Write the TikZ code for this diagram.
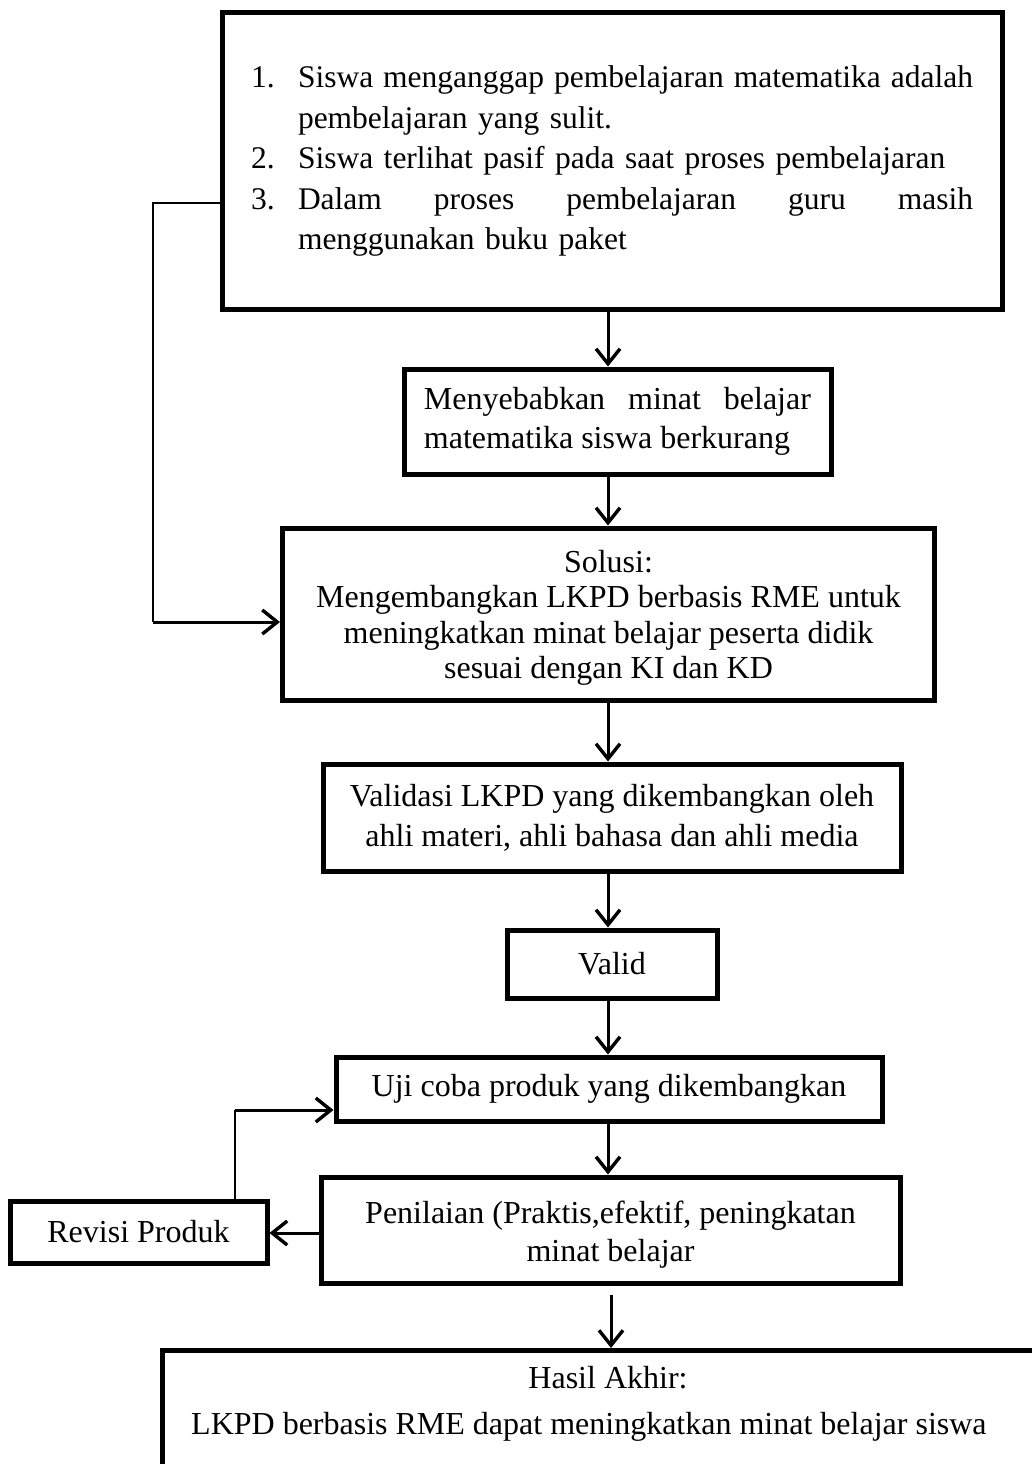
\documentclass[tikz,border=0pt]{standalone}
\usepackage{fontspec}
\setmainfont{Liberation Serif}
\usetikzlibrary{arrows.meta}
\begin{document}
\begin{tikzpicture}[x=1pt,y=-1pt,
  font=\fontsize{32}{39}\selectfont,
  box/.style={draw, line width=5pt, inner sep=0pt, rectangle, align=center},
  flow/.style={line width=3pt, -{Straight Barb[length=15pt,width=24pt,line width=3.4pt]}},
  thinline/.style={line width=1.3pt},
]
\useasboundingbox (0,0) rectangle (1032,1464);
\clip (0,0) rectangle (1032,1464);

\coordinate (ax) at (608,0);

% top box
\node[box, minimum width=780pt, minimum height=296pt, align=left, text width=722pt,
  font=\fontsize{31.5}{40.5}\selectfont] (prob) at (612,161) {%
\makebox[47pt][l]{1.}\makebox[675pt][l]{Siswa\hfill menganggap\hfill pembelajaran\hfill matematika\hfill adalah}\\
\hspace*{47pt}pembelajaran yang sulit.\\
\makebox[47pt][l]{2.}Siswa terlihat pasif pada saat proses pembelajaran\\
\makebox[47pt][l]{3.}\makebox[675pt][l]{Dalam\hfill proses\hfill pembelajaran\hfill guru\hfill masih}\\
\hspace*{47pt}menggunakan buku paket};

\node[box, minimum width=427pt, minimum height=105pt, align=left] (sebab) at (617.5,421.5) {%
\makebox[387pt][l]{Menyebabkan\hfill minat\hfill belajar}\\
matematika siswa berkurang\hspace*{21pt}};

\node[box, minimum width=652pt, minimum height=172pt] (solusi) at (608.5,614) {};
\node[align=center, font=\fontsize{32}{35.5}\selectfont, yshift=-4pt] (solusiT) at (solusi.center) {%
Solusi:\\Mengembangkan LKPD berbasis RME untuk\\meningkatkan minat belajar peserta didik\\sesuai dengan KI dan KD};

\node[box, minimum width=578pt, minimum height=107pt, font=\fontsize{32}{40}\selectfont] (validasi) at (612,817.5) {%
Validasi LKPD yang dikembangkan oleh\\ahli materi, ahli bahasa dan ahli media};

\node[box, minimum width=210pt, minimum height=68pt] (valid) at (612,964) {Valid};

\node[box, minimum width=546pt, minimum height=64pt] (uji) at (609,1089) {Uji coba produk yang dikembangkan};

\node[box, minimum width=579pt, minimum height=106pt] (nilai) at (610.5,1230) {};
\node[align=center, font=\fontsize{32}{38}\selectfont, yshift=-5pt] (nilaiT) at (nilai.center) {%
Penilaian (Praktis,efektif, peningkatan\\minat belajar};

\node[box, minimum width=257pt, minimum height=62pt] (revisi) at (138.5,1232) {Revisi Produk};

\node[box, minimum width=940pt, minimum height=200pt, anchor=north west] (hasil) at (160,1348) {};
\node (hasilA) at (608,1378) {Hasil Akhir:};
\node[anchor=west, inner sep=0pt] (hasilB) at (191,1427) {LKPD berbasis RME dapat meningkatkan minat belajar siswa};

% main flow
\draw[flow] (prob.south -| ax) -- (sebab.north -| ax);
\draw[flow] (sebab.south -| ax) -- (solusi.north -| ax);
\draw[flow] (solusi.south -| ax) -- (validasi.north -| ax);
\draw[flow] (validasi.south -| ax) -- (valid.north -| ax);
\draw[flow] (valid.south -| ax) -- (uji.north -| ax);
\draw[flow] (uji.south -| ax) -- (nilai.north -| ax);
\coordinate (ax2) at (611,0);
\draw[flow, shorten <=9pt] (nilai.south -| ax2) -- (hasil.north -| ax2);

% feedback from problems to solution
\coordinate (c1) at (153,203);
\coordinate (c2) at (153,622);
\draw[thinline] (prob.west |- c1) -- (c1) -- (c2);
\draw[flow] (c2) -- (solusi.west |- c2);

% revision loop
\coordinate (c4) at (0,1233);
\draw[flow] (nilai.west |- c4) -- (revisi.east |- c4);
\coordinate (c3) at (235,1110);
\draw[thinline] (revisi.north -| c3) -- (c3);
\draw[flow] (c3) -- (uji.west |- c3);
\end{tikzpicture}
\end{document}
